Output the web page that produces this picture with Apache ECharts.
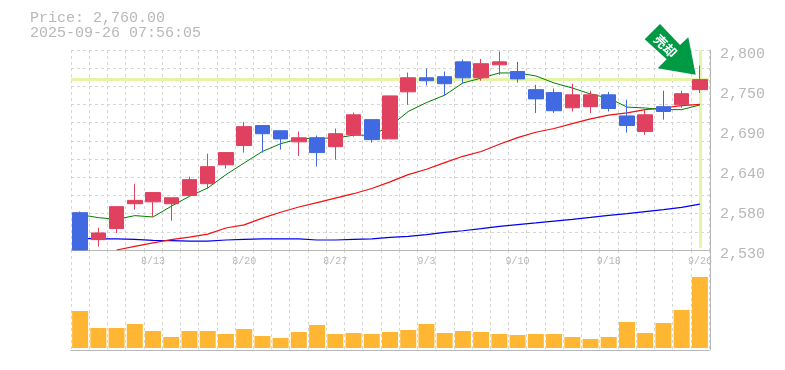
<!DOCTYPE html>
<html><head><meta charset="utf-8">
<style>html,body{margin:0;padding:0;background:#fff}#c{width:785px;height:370px}</style>
<script src="https://cdn.jsdelivr.net/npm/echarts@6/dist/echarts.min.js"></script>
</head><body><div id="c"></div>
<script>
const categories=['8/6','8/7','8/8','8/12','8/13','8/14','8/15','8/18','8/19','8/20','8/21','8/22','8/25','8/26','8/27','8/28','8/29','9/1','9/2','9/3','9/4','9/5','9/8','9/9','9/10','9/11','9/12','9/16','9/17','9/18','9/19','9/22','9/24','9/25','9/26'];
const opens=[2580.4,2544,2559,2592.5,2595,2592.5,2603.5,2619.5,2645,2671,2698,2691,2676,2681.5,2669.5,2685.5,2706,2680,2743.5,2762.5,2764,2784,2762.5,2780,2771,2746.5,2742.5,2722,2723.5,2739.5,2711,2690,2723.5,2726,2746.5];
const closes=[2530,2553,2588.5,2597,2607.5,2600.5,2625,2642.5,2661.5,2696.5,2687,2680,2681.5,2661.5,2687,2712.5,2679,2738,2762.5,2758.5,2754.5,2762.5,2781.5,2784,2761,2734,2718,2739.5,2739.5,2721,2698,2712.5,2717,2741,2760];
const lows=[2530,2534.5,2553,2584.5,2575,2569.5,2603.5,2613,2640,2661.5,2661.5,2665.5,2657,2642.5,2652,2683,2675,2680,2726,2752,2738,2754.5,2758.5,2766.5,2756,2715,2715,2717,2715,2717,2688.5,2685.5,2706,2722,2742];
const highs=[2582,2560,2588.5,2619.5,2607.5,2600.5,2629,2660,2661.5,2703,2698,2691,2690,2684.5,2694,2715.5,2706,2738,2769.5,2775,2771,2787,2788,2798,2784,2753,2748,2754.5,2745,2743.5,2733,2719.5,2745,2745,2779];
const ma5=[2577.7,2573.7,2571.4,2576.4,2574.6,2589,2602.5,2613.7,2631.7,2647.5,2663,2673.5,2680,2681,2681,2685,2685,2697,2717,2729,2739,2755.5,2762,2769,2769,2765,2755.5,2748.7,2740.6,2735,2723,2721.7,2719.5,2719.5,2725.8];
const ma25=[null,null,2530,2535,2539.5,2544,2547.5,2551.5,2559.7,2564,2573,2581,2588,2594,2600,2606,2613,2622,2631.7,2639,2648,2656.5,2663,2672.7,2681.7,2689,2694,2700.5,2707,2712,2715,2719.5,2721.7,2725,2726.7];
const ma75=[2545.7,2544.9,2544.9,2544.4,2543,2542.6,2542,2542,2543.5,2544.4,2544.9,2544.9,2544.9,2543.5,2543.5,2544.4,2544.9,2547,2548.5,2550.7,2553.9,2556,2558.8,2562,2564.2,2566.5,2569,2571.4,2574,2576.8,2579,2581.8,2584.5,2587.6,2592];
const volumes=[111,60,60,72,51,33,51,51,42,57,36,30,48,69,42,45,42,48,54,72,45,51,48,42,39,42,42,33,27,33,78,45,75,114,213];
const priceTicks=['2,530','2,580','2,640','2,690','2,750','2,800'];
const currentPrice=2760;
const titleLines=['Price: 2,760.00','2025-09-26 07:56:05'];
const arrowLabel='売却';

const MONO='"Liberation Mono",monospace', GREY='#b8b8b8', GRID='#d6d6d6';
const chart=echarts.init(document.getElementById('c'),null,{renderer:'canvas'});
const dash={type:[3,3],color:GRID,width:1};
const lineSeries=(name,data,color,width)=>({name,type:'line',data,xAxisIndex:0,yAxisIndex:0,showSymbol:false,symbol:'none',z:2,silent:true,animation:false,lineStyle:{color,width},connectNulls:false});
chart.setOption({
  animation:false,backgroundColor:'#fff',
  grid:[{left:71,top:50,width:638,height:200,containLabel:false},{left:71,top:250,width:638,height:100}],
  xAxis:[
    {type:'category',gridIndex:0,data:categories,boundaryGap:true,
      axisLine:{show:true,onZero:false,lineStyle:{color:GREY,width:1}},axisTick:{show:false},
      splitLine:{show:true,interval:0,lineStyle:dash},
      axisLabel:{show:true,interval:i=>(i+1)%5===0,color:GREY,fontFamily:MONO,fontSize:10,margin:6,hideOverlap:false}},
    {type:'category',gridIndex:1,data:categories,boundaryGap:true,
      axisLine:{show:true,onZero:false,lineStyle:{color:GREY,width:1}},axisTick:{show:false},axisLabel:{show:false},
      splitLine:{show:true,interval:0,lineStyle:dash}}
  ],
  yAxis:[
    {type:'value',gridIndex:0,min:2530,max:2800,position:'right',show:true,axisLine:{show:false},axisTick:{show:false},axisLabel:{show:false},splitLine:{show:false}},
    {type:'value',gridIndex:0,min:0,max:11,interval:1,position:'left',axisLine:{show:false},axisTick:{show:false},axisLabel:{show:false},splitLine:{show:true,lineStyle:dash}},
    {type:'value',gridIndex:0,min:0,max:5,interval:1,position:'right',offset:1,axisLine:{show:true,onZero:false,lineStyle:{color:GREY,width:1}},axisTick:{show:false},splitLine:{show:false},
      axisLabel:{show:true,margin:10,color:GREY,fontFamily:MONO,fontSize:15,verticalAlign:'top',lineHeight:9,formatter:v=>priceTicks[v]}},
    {type:'value',gridIndex:1,min:-6,max:294,position:'right',offset:1,axisLine:{show:true,onZero:false,lineStyle:{color:GREY,width:1}},axisTick:{show:false},axisLabel:{show:false},splitLine:{show:false}}
  ],
  series:[
    {name:'current',type:'line',data:[],xAxisIndex:0,yAxisIndex:0,z:1,silent:true,
      markLine:{silent:true,symbol:'none',z:1,animation:false,label:{show:false},lineStyle:{color:'#e4f5a8',width:3,type:'solid'},
        data:[{yAxis:currentPrice},[{coord:['9/26',2800]},{coord:['9/26',2533]}]]}},
    lineSeries('ma75',ma75,'#0000ee',1.2),
    lineSeries('ma25',ma25,'#f01010',1.2),
    lineSeries('ma5',ma5,'#008000',1),
    {name:'price',type:'candlestick',xAxisIndex:0,yAxisIndex:0,z:3,silent:true,clip:true,barWidth:15,
      data:opens.map((o,i)=>[o,closes[i],lows[i],highs[i]]),
      itemStyle:{color:'#e0415f',color0:'#4169e1',borderColor:'#e0415f',borderColor0:'#4169e1',borderWidth:1}},
    {name:'volume',type:'bar',xAxisIndex:1,yAxisIndex:3,data:volumes,barWidth:16,z:3,silent:true,itemStyle:{color:'#ffb733'}}
  ],
  graphic:[
    {type:'text',left:30,top:11,silent:true,style:{text:titleLines[0],fill:GREY,font:'15px '+MONO}},
    {type:'text',left:30,top:26,silent:true,style:{text:titleLines[1],fill:GREY,font:'15px '+MONO}},
    {type:'polygon',silent:true,z:10,shape:{points:[[660,24],[644.7,39.3],[666.7,59.3],[657.7,68.3],[695.7,74.7],[688.3,37.3],[680,45]]},style:{fill:'#009944'}},
    {type:'text',silent:true,z:11,x:665.5,y:46,rotation:-Math.PI/4,style:{text:arrowLabel,fill:'#fff',font:'bold 13px "Noto Sans CJK JP"',align:'center',verticalAlign:'middle',letterSpacing:5}}
  ]
});
</script></body></html>
